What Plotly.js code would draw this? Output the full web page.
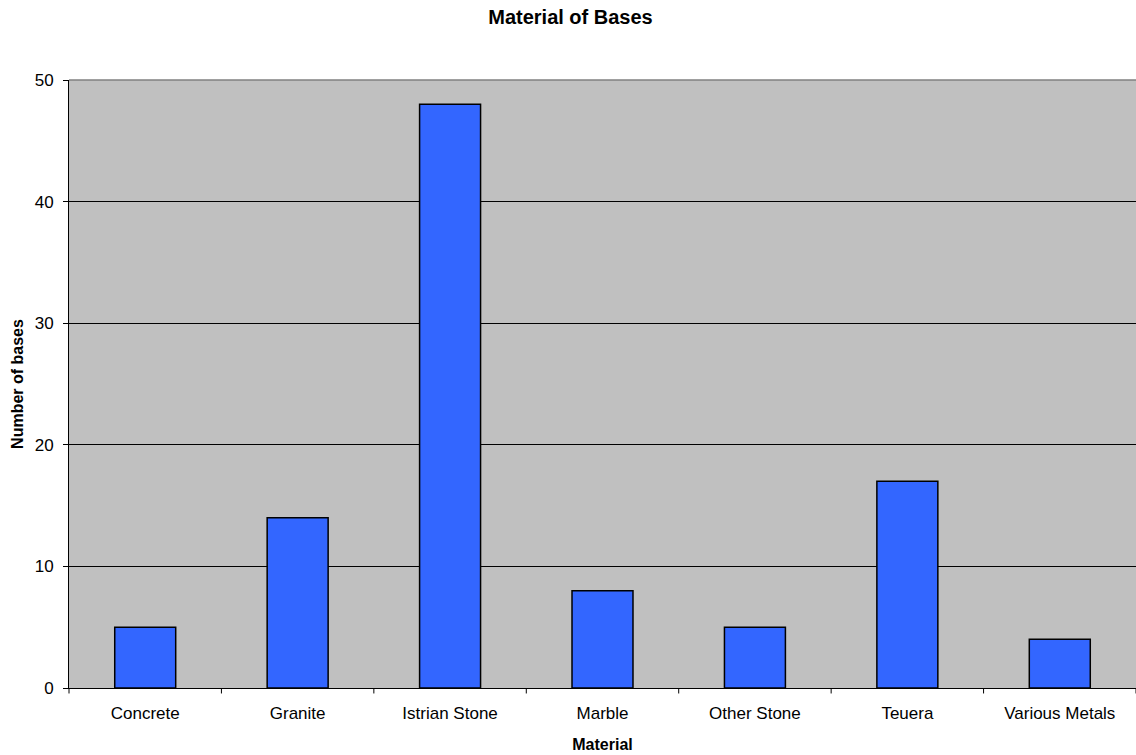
<!DOCTYPE html>
<html>
<head>
<meta charset="utf-8">
<script src="https://cdn.plot.ly/plotly-3.0.1.min.js"></script>
<style>
  html, body { margin: 0; padding: 0; background: #fff; }
  #chart { width: 1136px; height: 755px; }
</style>
</head>
<body>
<div id="chart"></div>
<script>
// Count of bases by material
const materials = ["Concrete", "Granite", "Istrian Stone", "Marble", "Other Stone", "Teuera", "Various Metals"];
const baseCounts = [5, 14, 48, 8, 5, 17, 4];
const yTicks = [0, 10, 20, 30, 40, 50];

const font = "Liberation Sans, Arial, sans-serif";

const trace = {
  type: "bar",
  x: materials,
  y: baseCounts,
  width: 0.4,
  marker: { color: "#3366FF", line: { color: "#000000", width: 1.5 } },
  hoverinfo: "x+y"
};

const layout = {
  width: 1136,
  height: 755,
  margin: { l: 69, r: 0, t: 80, b: 67 },
  paper_bgcolor: "#ffffff",
  plot_bgcolor: "#C0C0C0",
  font: { family: font, size: 17, color: "#000" },
  title: {
    text: "<b>Material of Bases</b>",
    font: { family: font, size: 20, color: "#000" },
    xref: "paper", x: 0.47, xanchor: "center",
    yref: "container", y: 0.977, yanchor: "middle"
  },
  showlegend: false,
  xaxis: {
    type: "category",
    showline: true, linecolor: "#000", linewidth: 1,
    ticks: "", showgrid: false, zeroline: false,
    ticklabelstandoff: 10,
    tickfont: { family: font, size: 17, color: "#000" },
    title: { text: "<b>Material</b>", font: { family: font, size: 16, color: "#000" }, standoff: 16 }
  },
  yaxis: {
    range: [0, 50],
    tickvals: yTicks,
    ticks: "outside", ticklen: 5, tickcolor: "#000", tickwidth: 1,
    ticklabelstandoff: 6,
    showline: true, linecolor: "#000", linewidth: 1,
    showgrid: true, gridcolor: "#000", gridwidth: 1,
    zeroline: false,
    tickfont: { family: font, size: 17, color: "#000" },
    title: { text: "<b>Number of bases</b>", font: { family: font, size: 16, color: "#000" }, standoff: 7 }
  },
  shapes: [
    // top edge of plot area in grey
    { type: "line", xref: "paper", yref: "paper", x0: 0, x1: 1, y0: 1, y1: 1,
      line: { color: "#808080", width: 1.5 }, layer: "above" }
  ]
};

// category separator ticks below the x axis
const nCat = materials.length;
for (let i = 0; i <= nCat; i++) {
  layout.shapes.push({
    type: "line", xref: "paper", yref: "paper",
    x0: i / nCat, x1: i / nCat, y0: 0, y1: -0.009,
    line: { color: "#000", width: 1 }
  });
}

Plotly.newPlot("chart", [trace], layout, { displayModeBar: false, staticPlot: true });
</script>
</body>
</html>
